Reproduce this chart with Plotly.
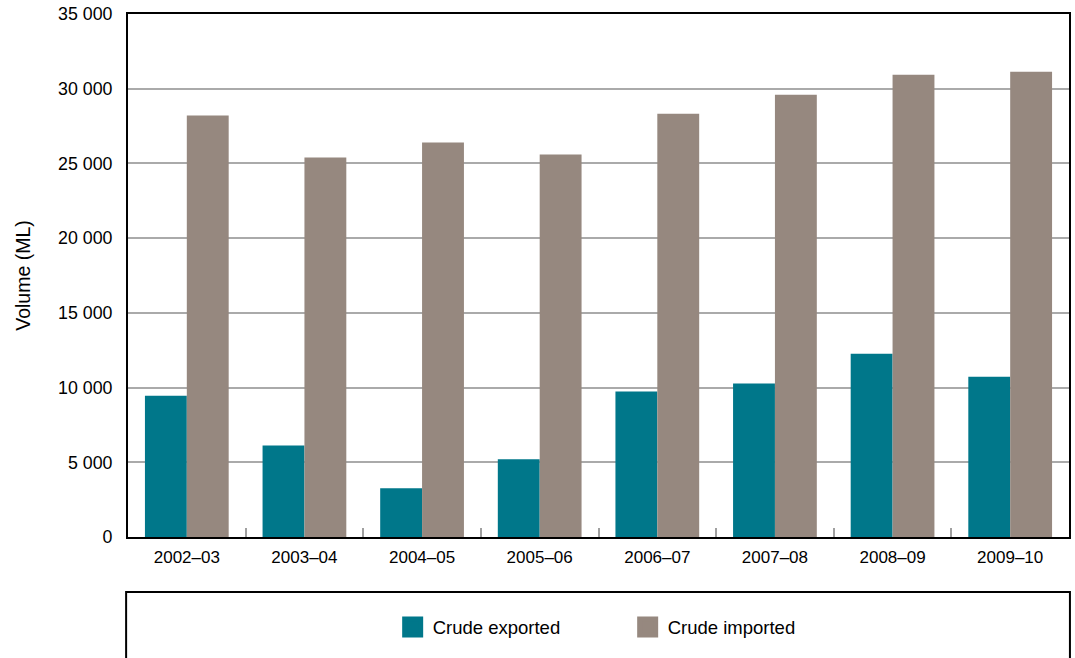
import plotly.graph_objects as go

categories = ["2002–03", "2003–04", "2004–05", "2005–06", "2006–07", "2007–08", "2008–09", "2009–10"]
crude_exported = [9450, 6130, 3270, 5200, 9730, 10270, 12270, 10730]
crude_imported = [28200, 25400, 26400, 25600, 28330, 29600, 30930, 31130]
series_names = ["Crude exported", "Crude imported"]
colors = ["#00778A", "#96887F"]

fig = go.Figure()
for name, vals, col in zip(series_names, [crude_exported, crude_imported], colors):
    fig.add_trace(go.Bar(x=categories, y=vals, name=name, marker=dict(color=col, line=dict(width=0)),
                         showlegend=False))
# legend swatches
for name, col in zip(series_names, colors):
    fig.add_trace(go.Scatter(x=[None], y=[None], mode="markers", name=name,
                             marker=dict(symbol="square", size=16, color=col, line=dict(color=col, width=5)),
                             showlegend=True))

fam = "Liberation Sans, Arial, sans-serif"
font = dict(family=fam, size=17, color="black")
yfont = dict(family=fam, size=17.8, color="black")
fig.update_layout(
    width=1075, height=658,
    margin=dict(l=128, r=4, t=11, b=121),
    paper_bgcolor="white", plot_bgcolor="white",
    font=font,
    separators=". ",
    barmode="group", bargap=0.288, bargroupgap=0,
    showlegend=True,
    legend=dict(orientation="h", x=0.531, xanchor="center", y=-0.173, yanchor="middle",
                font=dict(family=fam, size=18.5, color="black"),
                bgcolor="rgba(0,0,0,0)", entrywidth=190, entrywidthmode="pixels"),
    xaxis=dict(showline=True, linecolor="black", linewidth=2, mirror=True,
               ticks="inside", tickson="boundaries", ticklen=9, tickcolor="#a0a0a0", tickwidth=1.5,
               ticklabelstandoff=4, showgrid=False, tickfont=font),
    yaxis=dict(range=[0, 35000], dtick=5000, tickformat=",d",
               showline=True, linecolor="black", linewidth=2, mirror=True,
               showgrid=True, gridcolor="#aaaaaa", gridwidth=1.5, zeroline=False,
               ticks="", ticklabelstandoff=10, tickfont=yfont,
               title=dict(text="Volume (ML)", font=dict(family=fam, size=19.5, color="black"), standoff=22)),
    shapes=[dict(type="rect", xref="paper", yref="paper", x0=-0.002, x1=1.001, y0=-0.105, y1=-0.3,
                 line=dict(color="black", width=2), fillcolor="rgba(0,0,0,0)")],
)

fig.write_html("out.html", config={"displayModeBar": False},
               post_script="document.body.style.margin='0px';")
